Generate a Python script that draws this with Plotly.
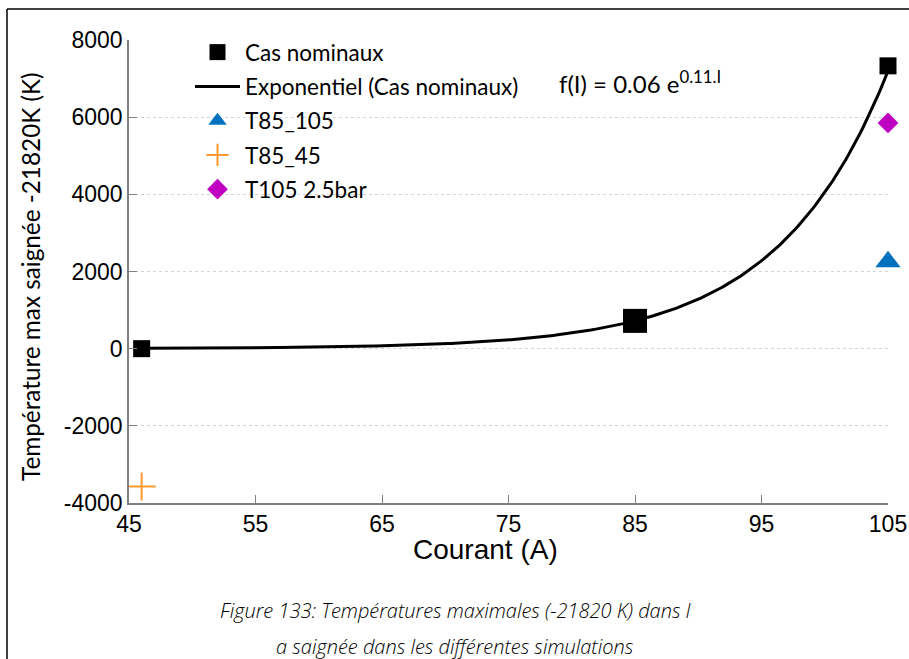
import numpy as np
import plotly.graph_objects as go

# ---- data ----
nominal_x = [46, 85, 105]
nominal_y = [0, 720, 7330]
t85_105_x = [105]
t85_105_y = [2250]
t85_45_x = [46]
t85_45_y = [-3570]
t105_x = [105]
t105_y = [5850]
# exponential trend (coefficients estimated from the drawn curve)
trend_a = 0.041
trend_b = 0.115
trend_range = [46, 105]
x_ticks = [45, 55, 65, 75, 85, 95, 105]
y_ticks = [-4000, -2000, 0, 2000, 4000, 6000, 8000]

W, H = 909, 659
L, R, T, B = 129, 21, 40, 156
PW, PH = W - L - R, H - T - B


def px(p):
    return (p - L) / PW


def py(p):
    return (H - B - p) / PH


trend_x = np.linspace(trend_range[0], trend_range[1], 300)
trend_y = trend_a * np.exp(trend_b * trend_x)

LEG_FONT = "Lato"

fig = go.Figure()
fig.add_trace(go.Scatter(
    x=nominal_x, y=nominal_y, mode="markers", name="Cas nominaux",
    marker=dict(symbol="square", color="black", size=[17, 24, 17], opacity=1,
                line=dict(color="black", width=0)),
    legendgroup="a", cliponaxis=False))
fig.add_trace(go.Scatter(
    x=trend_x, y=trend_y, mode="lines", name="Exponentiel (Cas nominaux)",
    line=dict(color="black", width=3), legendgroup="b", cliponaxis=False))
fig.add_trace(go.Scatter(
    x=t85_105_x, y=t85_105_y, mode="markers", name="T85_105",
    marker=dict(symbol="triangle-up", color="#0070c0", size=22,
                line=dict(width=0)),
    legendgroup="c", cliponaxis=False))
fig.add_trace(go.Scatter(
    x=t85_45_x, y=t85_45_y, mode="markers", name="T85_45",
    marker=dict(symbol="cross-thin", color="#ff9a2e", size=20,
                line=dict(color="#ff9a2e", width=2)),
    legendgroup="d", cliponaxis=False))
fig.add_trace(go.Scatter(
    x=t105_x, y=t105_y, mode="markers", name="T105 2.5bar",
    marker=dict(symbol="diamond", color="#c000c0", size=16,
                line=dict(width=0)),
    legendgroup="e", cliponaxis=False))

axis_col = "#808080"
fig.update_xaxes(
    range=[45, 105], tickvals=x_ticks, ticktext=[str(v) for v in x_ticks],
    showgrid=False, zeroline=False, showline=True, linecolor=axis_col,
    linewidth=1.5, ticks="inside", ticklen=8, tickcolor=axis_col, tickwidth=1,
    automargin=False,
    tickfont=dict(family="Liberation Sans", size=23, color="black"))
fig.update_yaxes(
    range=[-4000, 8000], tickvals=y_ticks, ticktext=[str(v) for v in y_ticks],
    showgrid=True, gridcolor="#d4d4d4", griddash="dot", gridwidth=1,
    zeroline=False, showline=True, linecolor=axis_col, linewidth=1.5,
    ticks="inside", ticklen=8, tickcolor=axis_col, tickwidth=1,
    automargin=False,
    tickfont=dict(family="Liberation Sans", size=23, color="black"))

cap_font = dict(family="Open Sans", size=20, color="#000000", style="italic",
                weight=300)
annotations = [
    dict(text="Courant (A)", x=px(485), y=py(549), xref="paper", yref="paper",
         showarrow=False, xanchor="center", yanchor="middle",
         font=dict(family="Liberation Sans", size=28, color="black")),
    dict(text="Température max saignée -21820K (K)", x=px(30), y=py(277),
         xref="paper", yref="paper", showarrow=False, textangle=-90,
         xanchor="center", yanchor="middle",
         font=dict(family=LEG_FONT, size=24.3, color="black")),
    dict(text="f(I) = 0.06 e<sup>0.11.I</sup>", x=px(557), y=py(82),
         xref="paper", yref="paper", showarrow=False, xanchor="left",
         yanchor="middle", font=dict(family=LEG_FONT, size=24, color="black")),
    dict(text="Figure 133: Températures maximales (-21820 K) dans l",
         x=px(455), y=py(610), xref="paper", yref="paper", showarrow=False,
         xanchor="center", yanchor="middle", font=cap_font),
    dict(text="a saignée dans les différentes simulations",
         x=px(455), y=py(646), xref="paper", yref="paper", showarrow=False,
         xanchor="center", yanchor="middle", font=cap_font),
]

shapes = [
    dict(type="line", xref="paper", yref="paper", x0=px(7), x1=px(909),
         y0=py(9), y1=py(9), line=dict(color="black", width=1.5)),
    dict(type="line", xref="paper", yref="paper", x0=px(7), x1=px(7),
         y0=py(9), y1=py(659), line=dict(color="black", width=1.5)),
]

fig.update_layout(
    width=W, height=H, margin=dict(l=L, r=R, t=T, b=B, pad=0,
                                   autoexpand=False),
    paper_bgcolor="white", plot_bgcolor="white",
    showlegend=True,
    legend=dict(x=px(190), y=py(31), xanchor="left", yanchor="top",
                bgcolor="rgba(0,0,0,0)", font=dict(family=LEG_FONT, size=22.5,
                                                    color="black"),
                itemwidth=45, tracegroupgap=2, traceorder="grouped"),
    annotations=annotations, shapes=shapes,
)

fig.write_html("out.html", config={"displayModeBar": False},
               post_script="document.body.style.margin='0';"
                           "document.body.style.overflow='hidden';")
